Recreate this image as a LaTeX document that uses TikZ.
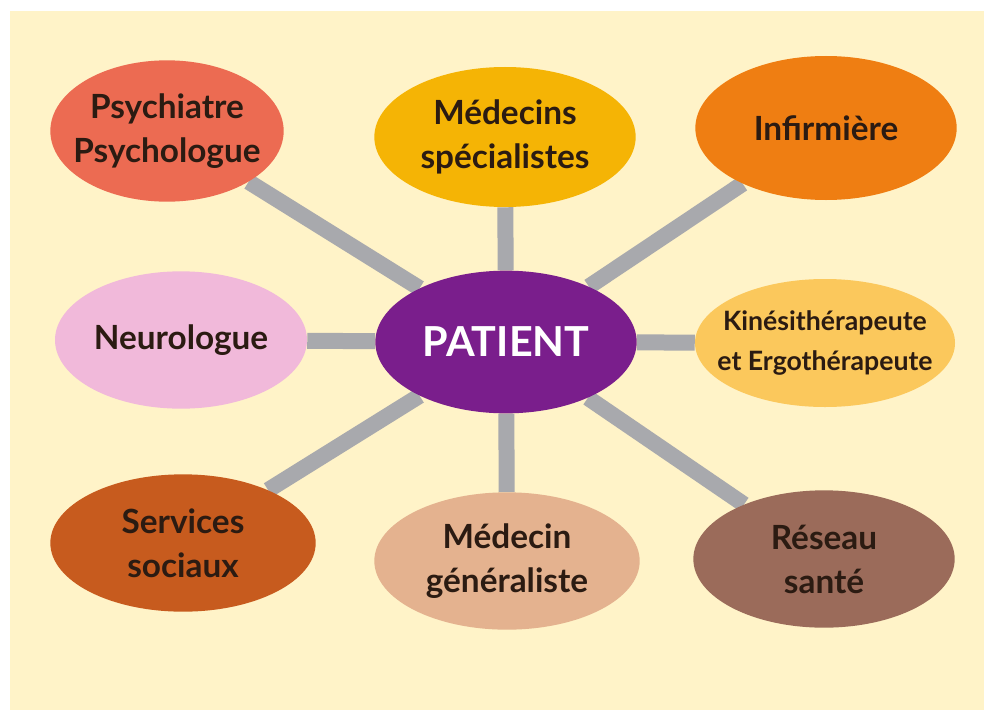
\documentclass[tikz,border=0pt]{standalone}
\usepackage{fontspec}
\setmainfont{Lato}
\usetikzlibrary{shapes.geometric,backgrounds}

\definecolor{cream}{HTML}{FFF3C8}
\definecolor{linkgray}{HTML}{A8A9AD}
\definecolor{ink}{HTML}{2B1B12}
\definecolor{psycol}{HTML}{EC6B52}
\definecolor{specol}{HTML}{F5B405}
\definecolor{infcol}{HTML}{EF7E12}
\definecolor{neucol}{HTML}{F1B9DA}
\definecolor{patcol}{HTML}{7A1E8C}
\definecolor{kincol}{HTML}{FBC85C}
\definecolor{soccol}{HTML}{C75B1E}
\definecolor{gencol}{HTML}{E4B28F}
\definecolor{rescol}{HTML}{9B6B5A}

\tikzset{
  bubble/.style={ellipse, inner xsep=-20pt, inner ysep=0pt, align=center, text=ink,
    font=\bfseries\fontsize{25}{33}\selectfont},
  link/.style={draw=linkgray, line width=12pt}
}

\begin{document}
\begin{tikzpicture}[x=0.75pt,y=-0.75pt]
  \useasboundingbox (0,0) rectangle (984,710);

  % the people round the patient
  \node[bubble, fill=psycol, minimum width=175pt, minimum height=106pt] (psy) at (167,131) {Psychiatre\\Psychologue};
  \node[bubble, fill=specol, minimum width=196pt, minimum height=105pt] (spe) at (505,137) {Médecins\\spécialistes};
  \node[bubble, fill=infcol, minimum width=196pt, minimum height=108pt] (inf) at (826,128) {Infirmière};
  \node[bubble, fill=neucol, minimum width=189pt, minimum height=103pt] (neu) at (181,340) {Neurologue};
  \node[bubble, fill=patcol, minimum width=196pt, minimum height=107pt, text=white,
        font=\bfseries\fontsize{31}{35}\selectfont] (pat) at (506,342) {PATIENT};
  \node[bubble, fill=kincol, minimum width=195pt, minimum height=96pt,
        font=\bfseries\fontsize{20}{30}\selectfont] (kin) at (825,343) {Kinésithérapeute\\et Ergothérapeute};
  \node[bubble, fill=soccol, minimum width=199pt, minimum height=103pt] (soc) at (183,543) {Services\\sociaux};
  \node[bubble, fill=gencol, minimum width=199pt, minimum height=103pt] (gen) at (507,561) {Médecin\\généraliste};
  \node[bubble, fill=rescol, minimum width=196pt, minimum height=103pt] (res) at (824,559) {Réseau\\santé};

  \begin{scope}[on background layer]
    \fill[cream] (10,11) rectangle (984,710);
    \foreach \n in {psy,spe,inf,neu,kin,soc,gen,res}
      \draw[link] (pat) -- (\n);
  \end{scope}
\end{tikzpicture}
\end{document}
